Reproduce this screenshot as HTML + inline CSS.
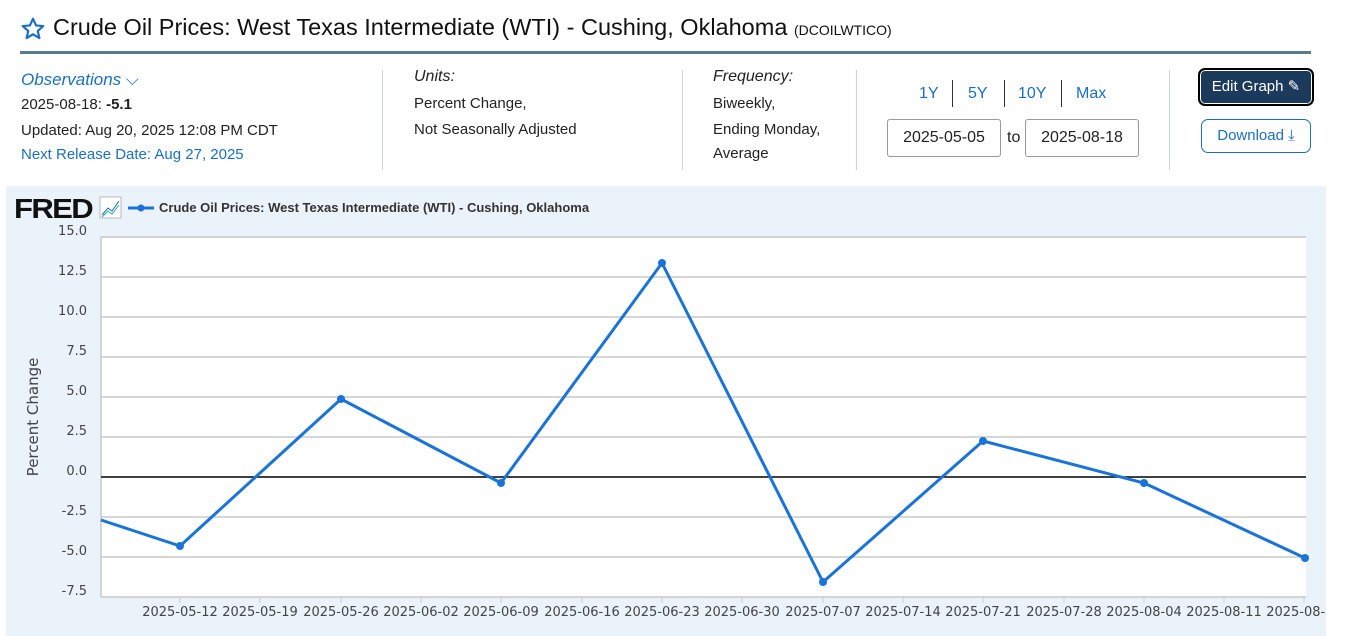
<!DOCTYPE html>
<html><head><meta charset="utf-8"><style>
body{margin:0;width:1351px;height:636px;background:#fff;font-family:"Liberation Sans",sans-serif;position:relative;overflow:hidden;color:#222}
.a{position:absolute;white-space:nowrap}
.blue{color:#1a6fc2}
.sep{position:absolute;width:1px;background:#c9d6de}
.inp{position:absolute;border:1px solid #999;border-radius:3px;height:36px;font-size:16px;line-height:36px;text-align:center}
</style></head><body>
<svg class="a" style="left:20px;top:16px" width="26" height="26" viewBox="0 0 24 24"><path d="M12 2.5l2.8 6.2 6.7.6-5.1 4.5 1.5 6.6L12 16.9 6.1 20.4l1.5-6.6L2.5 9.3l6.7-.6z" fill="none" stroke="#1a6fc2" stroke-width="2" stroke-linejoin="round"/></svg>
<div class="a" style="left:53px;top:14px;font-size:23.5px;color:#111">Crude Oil Prices: West Texas Intermediate (WTI) - Cushing, Oklahoma <span style="font-size:14px">(DCOILWTICO)</span></div>
<div class="a" style="left:20px;top:51px;width:1291px;height:3px;background:#5a7a8f"></div>
<div class="a blue" style="left:21px;top:70px;font-size:17px;font-style:italic">Observations <span style="font-style:normal">&#x2335;</span></div>
<div class="a" style="left:21px;top:96px;font-size:15px">2025-08-18: <b>-5.1</b></div>
<div class="a" style="left:21px;top:122px;font-size:15px">Updated: Aug 20, 2025 12:08 PM CDT</div>
<div class="a blue" style="left:21px;top:146px;font-size:15px">Next Release Date: Aug 27, 2025</div>
<div class="sep" style="left:382px;top:70px;height:100px"></div>
<div class="a" style="left:414px;top:68px;font-size:16px;font-style:italic">Units:</div>
<div class="a" style="left:414px;top:95px;font-size:15px">Percent Change,</div>
<div class="a" style="left:414px;top:121px;font-size:15px">Not Seasonally Adjusted</div>
<div class="sep" style="left:682px;top:70px;height:100px"></div>
<div class="a" style="left:713px;top:68px;font-size:16px;font-style:italic">Frequency:</div>
<div class="a" style="left:713px;top:95px;font-size:15px">Biweekly,</div>
<div class="a" style="left:713px;top:121px;font-size:15px">Ending Monday,</div>
<div class="a" style="left:713px;top:145px;font-size:15px">Average</div>
<div class="sep" style="left:856px;top:70px;height:100px"></div>
<div class="a blue" style="left:919px;top:85px;font-size:16px">1Y</div>
<div class="a" style="left:952px;top:80px;width:1px;height:27px;background:#333"></div>
<div class="a blue" style="left:968px;top:85px;font-size:16px">5Y</div>
<div class="a" style="left:1004px;top:80px;width:1px;height:27px;background:#333"></div>
<div class="a blue" style="left:1018px;top:85px;font-size:16px">10Y</div>
<div class="a" style="left:1061px;top:80px;width:1px;height:27px;background:#333"></div>
<div class="a blue" style="left:1076px;top:85px;font-size:16px">Max</div>
<div class="inp" style="left:887px;top:119px;width:112px">2025-05-05</div>
<div class="a" style="left:1007px;top:129px;font-size:16px">to</div>
<div class="inp" style="left:1025px;top:119px;width:112px">2025-08-18</div>
<div class="sep" style="left:1169px;top:70px;height:100px"></div>
<div class="a" style="left:1198px;top:68px;width:112px;height:34px;background:#1b3a5c;border:2px solid #000;border-radius:7px;box-shadow:0 0 0 1px #fff inset;color:#fff;font-size:15px;line-height:34px;text-align:center">Edit Graph &#x270E;</div>
<div class="a blue" style="left:1201px;top:119px;width:108px;height:32px;border:1px solid #1a6fc2;border-radius:7px;font-size:15px;line-height:32px;text-align:center">Download &#x2913;</div>
<div class="a" style="left:6px;top:186px;width:1320px;height:450px;background:#eaf2fa"></div>
<svg class="a" style="left:0;top:0" width="1351" height="636">
<text x="14" y="218" font-family="Liberation Sans" font-weight="bold" font-size="28" fill="#111" letter-spacing="-1.5" textLength="78" lengthAdjust="spacingAndGlyphs">FRED</text>
<rect x="100" y="197" width="21" height="21" fill="#fff" stroke="#bbb"/>
<polyline points="102,215 108,208 112,211 119,201" fill="none" stroke="#1a6fc2" stroke-width="1"/>
<polyline points="102,217 108,211 112,214 119,205" fill="none" stroke="#3a9" stroke-width="1"/>
<line x1="128" y1="208" x2="154" y2="208" stroke="#1a73d9" stroke-width="3"/><circle cx="141" cy="208" r="3.5" fill="#1a73d9"/>
<text x="159" y="212" font-size="13" fill="#333" font-weight="bold" font-family="Liberation Sans">Crude Oil Prices: West Texas Intermediate (WTI) - Cushing, Oklahoma</text>
<rect x="101" y="237" width="1205" height="360" fill="#fff"/>
<g stroke="#c8c8c8" stroke-width="1.5">
<line x1="101" x2="1306" y1="237" y2="237"/><line x1="101" x2="1306" y1="277" y2="277"/><line x1="101" x2="1306" y1="317" y2="317"/><line x1="101" x2="1306" y1="357" y2="357"/><line x1="101" x2="1306" y1="397" y2="397"/><line x1="101" x2="1306" y1="437" y2="437"/><line x1="101" x2="1306" y1="517" y2="517"/><line x1="101" x2="1306" y1="557" y2="557"/><line x1="101" x2="1306" y1="597" y2="597"/><line x1="101" x2="101" y1="237" y2="597"/>
</g>
<line x1="101" x2="1306" y1="477" y2="477" stroke="#000" stroke-width="1.5"/>
<g font-size="13" fill="#444" text-anchor="end" font-family="DejaVu Sans" >
<text x="87" y="235">15.0</text><text x="87" y="275">12.5</text><text x="87" y="315">10.0</text><text x="87" y="355">7.5</text><text x="87" y="395">5.0</text><text x="87" y="435">2.5</text><text x="87" y="475">0.0</text><text x="87" y="515">-2.5</text><text x="87" y="555">-5.0</text><text x="87" y="595">-7.5</text>
</g>
<text transform="translate(38,417) rotate(-90)" text-anchor="middle" font-size="15" fill="#444" font-family="DejaVu Sans">Percent Change</text>
<g stroke="#ccd" stroke-width="1">
<line x1="180" x2="180" y1="597" y2="603"/><line x1="260" x2="260" y1="597" y2="603"/><line x1="341" x2="341" y1="597" y2="603"/><line x1="421" x2="421" y1="597" y2="603"/><line x1="501" x2="501" y1="597" y2="603"/><line x1="582" x2="582" y1="597" y2="603"/><line x1="662" x2="662" y1="597" y2="603"/><line x1="742" x2="742" y1="597" y2="603"/><line x1="823" x2="823" y1="597" y2="603"/><line x1="903" x2="903" y1="597" y2="603"/><line x1="983" x2="983" y1="597" y2="603"/><line x1="1064" x2="1064" y1="597" y2="603"/><line x1="1144" x2="1144" y1="597" y2="603"/><line x1="1224" x2="1224" y1="597" y2="603"/><line x1="1304" x2="1304" y1="597" y2="603"/>
</g>
<svg x="0" y="590" width="1326" height="40">
<g font-size="13" fill="#444" text-anchor="middle" font-family="DejaVu Sans">
<text x="180" y="26">2025-05-12</text><text x="260" y="26">2025-05-19</text><text x="341" y="26">2025-05-26</text><text x="421" y="26">2025-06-02</text><text x="501" y="26">2025-06-09</text><text x="582" y="26">2025-06-16</text><text x="662" y="26">2025-06-23</text><text x="742" y="26">2025-06-30</text><text x="823" y="26">2025-07-07</text><text x="903" y="26">2025-07-14</text><text x="983" y="26">2025-07-21</text><text x="1064" y="26">2025-07-28</text><text x="1144" y="26">2025-08-04</text><text x="1224" y="26">2025-08-11</text><text x="1304" y="26">2025-08-18</text>
</g></svg>
<polyline points="101,520 180,546 341,399 501,483 662,263 823,582 983,441 1144,483 1305,558" fill="none" stroke="#1a73d9" stroke-width="3" stroke-linejoin="round"/>
<g fill="#1a73d9"><circle cx="180" cy="546" r="4"/><circle cx="341" cy="399" r="4"/><circle cx="501" cy="483" r="4"/><circle cx="662" cy="263" r="4"/><circle cx="823" cy="582" r="4"/><circle cx="983" cy="441" r="4"/><circle cx="1144" cy="483" r="4"/><circle cx="1305" cy="558" r="4"/></g>
</svg>
</body></html>
